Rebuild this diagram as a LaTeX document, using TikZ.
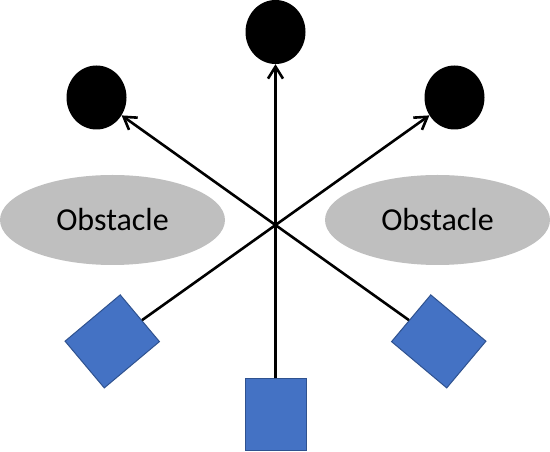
\documentclass[tikz,border=0pt]{standalone}
\usepackage{fontspec}
\setmainfont{Carlito}
\usetikzlibrary{shapes.geometric,arrows.meta}
\definecolor{OBGray}{HTML}{BFBFBF}
\definecolor{OBBlue}{HTML}{4472C4}
\definecolor{OBEdge}{HTML}{2F528F}

\begin{document}
\begin{tikzpicture}[x=1pt,y=1pt,
  goal/.style={ellipse,fill=black,inner sep=0pt,minimum width=60pt,minimum height=64pt},
  obstacle/.style={ellipse,fill=OBGray,inner sep=0pt,minimum width=225pt,minimum height=90pt,
    font=\fontsize{32}{38}\selectfont},
  robot/.style={rectangle,fill=OBBlue,draw=OBEdge,line width=1pt,inner sep=0pt,
    minimum width=61pt,minimum height=72pt},
  path/.style={line width=2.6pt,-{Straight Barb[length=12pt,width=15pt]}}]
\path[use as bounding box] (0,0) rectangle (550,452);
\node[goal] (gtop) at (275.5,420) {};
\node[goal] (gleft) at (96.5,354.5) {};
\node[goal] (gright) at (454.5,354.5) {};
\node[obstacle] (obsleft) at (112.5,232) {Obstacle};
\node[obstacle] (obsright) at (437.5,232) {Obstacle};
\node[robot] (rbottom) at (275.5,37) {};
\node[robot,rotate=-50] (rleft) at (112.25,110.6) {};
\node[robot,rotate=50] (rright) at (438.75,110.6) {};
\draw[path] (rbottom) -- (gtop);
\draw[path] (rleft) -- (gright);
\draw[path] (rright) -- (gleft);
\end{tikzpicture}
\end{document}
